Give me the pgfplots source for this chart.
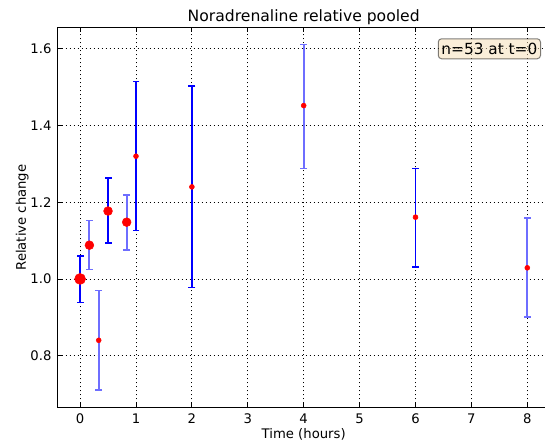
\documentclass[border=0pt]{standalone}
\usepackage{fontspec}
\setmainfont{DejaVu Sans}
\usepackage{pgfplots}
\pgfplotsset{compat=1.18}
\definecolor{wheatbox}{RGB}{245,222,179}
\definecolor{darkbar}{RGB}{0,0,255}
\definecolor{lightblue}{RGB}{110,110,255}
\begin{document}
\begin{tikzpicture}
\begin{axis}[
  scale only axis,
  clip=false,
  width=369pt, height=284.8pt,
  xmin=-0.4, xmax=8.4,
  ymin=0.665, ymax=1.655,
  xtick={0,1,2,3,4,5,6,7,8},
  ytick={0.8,1.0,1.2,1.4,1.6},
  tick pos=both,
  tick align=inside,
  major tick length=3.3pt,
  tick style={black, line width=0.6pt},
  axis line style={black, line width=0.8pt},
  grid=major,
  major grid style={black, dash pattern=on 0.8pt off 2.2pt, line width=0.6pt},
  /pgf/number format/assume math mode=true,
  yticklabel style={/pgf/number format/fixed, /pgf/number format/fixed zerofill, /pgf/number format/precision=1, xshift=-4.5pt},
  ticklabel style={font=\fontsize{9.9pt}{12pt}\selectfont, inner sep=0pt},
  xticklabel style={yshift=-4.4pt},
  ylabel={Relative change},
  label style={font=\fontsize{9.9pt}{12pt}\selectfont, inner sep=0pt},
  ylabel style={at={([xshift=-23.8pt]rel axis cs:0,0.5)}, anchor=base},
  dk/.style={draw=darkbar, line width=0.95pt, mark=-, mark size=2.6pt, mark options={solid, draw=darkbar, line width=0.95pt}},
  lt/.style={draw=lightblue, line width=1.4pt, mark=-, mark size=2.6pt, mark options={solid, draw=lightblue, line width=1.1pt}},
]
% error bars: lower and upper end of each bar
\addplot[dk] coordinates {(0,0.939) (0,1.060)};
\addplot[lt] coordinates {(0.16667,1.024) (0.16667,1.152)};
\addplot[lt] coordinates {(0.33333,0.710) (0.33333,0.970)};
\addplot[dk] coordinates {(0.5,1.094) (0.5,1.263)};
\addplot[lt] coordinates {(0.83333,1.076) (0.83333,1.219)};
\addplot[dk] coordinates {(1,1.126) (1,1.514)};
\addplot[dk] coordinates {(2,0.977) (2,1.503)};
\addplot[lt] coordinates {(4,1.288) (4,1.611)};
\addplot[dk] coordinates {(6,1.031) (6,1.288)};
\addplot[lt] coordinates {(8,0.901) (8,1.159)};
% markers
\addplot[only marks, mark=*, mark size=4.1pt, red, mark options={draw=red, fill=red}]
  coordinates {(0,1.000)};
\addplot[only marks, mark=*, mark size=3.3pt, red, mark options={draw=red, fill=red}]
  coordinates {(0.16667,1.088) (0.5,1.177) (0.83333,1.148)};
\addplot[only marks, mark=*, mark size=1.85pt, red, mark options={draw=red, fill=red}]
  coordinates {(0.33333,0.840) (1,1.320) (2,1.240) (4,1.452) (6,1.161) (8,1.029)};
\node[anchor=north east, draw=black, draw opacity=0.5, fill=wheatbox, fill opacity=0.5, text opacity=1,
  rounded corners=2.5pt, line width=0.75pt, inner xsep=2.4pt, inner ysep=0pt,
  minimum height=15pt, font=\fontsize{11.5pt}{13pt}\selectfont]
  at ([xshift=-6.5pt, yshift=-7.9pt]rel axis cs:1,1) {n=53 at t=0};
\node[anchor=base, inner sep=0pt, font=\fontsize{11.7pt}{14pt}\selectfont]
  at ([yshift=4.6pt]rel axis cs:0.5,1) {Noradrenaline relative pooled};
\node[anchor=base, inner sep=0pt, font=\fontsize{9.9pt}{12pt}\selectfont]
  at ([yshift=-23.6pt]rel axis cs:0.5,0) {Time (hours)};
\end{axis}
\pgfresetboundingbox
\path (-43.3pt,-28.1pt) rectangle (365.5pt,305.6pt);
\end{tikzpicture}
\end{document}
